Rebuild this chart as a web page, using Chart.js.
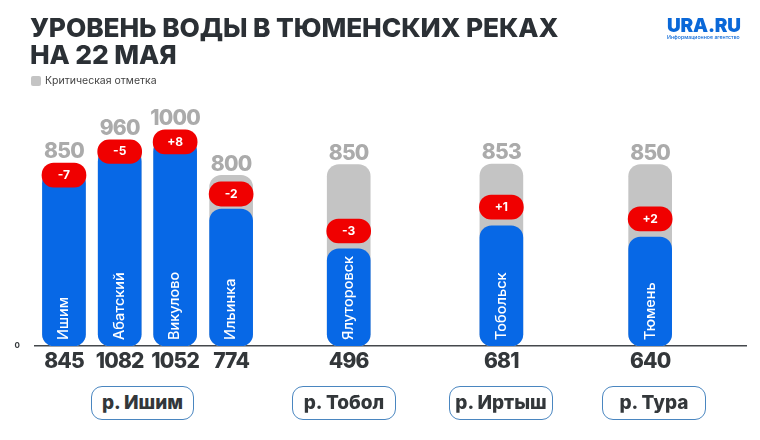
<!DOCTYPE html>
<html lang="ru">
<head>
<meta charset="utf-8">
<title>Уровень воды в тюменских реках</title>
<script src="https://cdn.jsdelivr.net/npm/chart.js@4/dist/chart.umd.min.js"></script>
<style>
    html, body { margin: 0; padding: 0; background: #fff; }
    body { width: 760px; height: 440px; position: relative; overflow: hidden; font-family: Inter, sans-serif; }
    canvas { position: absolute; left: 0; top: 0; }
    .title { position: absolute; left: 30px; top: 14px; font-size: 26.3px; line-height: 27px; font-weight: 800; color: #2b3035; letter-spacing: -0.1px; white-space: nowrap; }
    .legend { position: absolute; left: 31px; top: 75px; font-size: 10.5px; line-height: 12px; color: #444; padding-left: 14px; }
    .legend i { position: absolute; left: 0; top: 1px; width: 10px; height: 10px; border-radius: 2px; background: #c4c4c4; }
    .logo { position: absolute; left: 667px; top: 16px; font-size: 19px; line-height: 20px; font-weight: 900; color: #0a68d8; letter-spacing: -0.2px; }
    .logo small { display: block; font-size: 5.2px; line-height: 5px; font-weight: 500; letter-spacing: 0; white-space: nowrap; margin-top: -1px; }
    .river { position: absolute; top: 386px; height: 32px; line-height: 32px; border: 1.5px solid #4a86c0; border-radius: 11px; text-align: center; font-size: 19px; font-weight: 800; color: #33373a; background: #fff; }
</style>
</head>
<body>
<canvas id="waterChart" width="760" height="440"></canvas>
<div class="title">УРОВЕНЬ ВОДЫ В ТЮМЕНСКИХ РЕКАХ<br>НА 22 МАЯ</div>
<div class="legend"><i></i>Критическая отметка</div>
<div class="logo">URA.RU<small>Информационное агентство</small></div>
<div class="river" style="left:91px;width:101px">р. Ишим</div>
<div class="river" style="left:292px;width:102px">р. Тобол</div>
<div class="river" style="left:449px;width:102px">р. Иртыш</div>
<div class="river" style="left:602px;width:102px">р. Тура</div>

<script>
var stations = ['Ишим', 'Абатский', 'Викулово', 'Ильинка', 'Ялуторовск', 'Тобольск', 'Тюмень'];
var levels = [845, 1082, 1052, 774, 496, 681, 640];
var critical = [850, 960, 1000, 800, 850, 853, 850];
var changes = ['-7', '-5', '+8', '-2', '-3', '+1', '+2'];

// синие столбцы на картинке не в масштабе подписей, поэтому высоты считаны отдельно
var levelDrawn = [817, 920, 967, 642, 455, 563, 511];
// красные плашки: низ и верх
var badgeLow = [745, 856, 900, 656, 483, 595, 539];
var badgeHigh = [858, 966, 1013, 769, 595, 708, 652];

// места столбцов по оси x, реки стоят с разными промежутками
var slots = [0, 1, 1.995, 3, 5.11, 7.85, 10.52];

function points(values) {
    return values.map(function (v, i) {
        return { x: slots[i], y: v };
    });
}

var badgeBands = badgeLow.map(function (low, i) {
    return [low, badgeHigh[i]];
});

var labelsPlugin = {
    id: 'labels',
    afterDatasetsDraw: function (chart) {
        var ctx = chart.ctx;
        var x = chart.scales.x;
        var y = chart.scales.y;
        var font = 'Inter, sans-serif';

        ctx.save();
        ctx.textAlign = 'center';
        ctx.textBaseline = 'middle';

        stations.forEach(function (name, i) {
            var cx = x.getPixelForValue(slots[i]);

            // отметка сверху
            var top = Math.max(critical[i], badgeHigh[i]);
            ctx.fillStyle = '#ababab';
            ctx.font = '800 21px ' + font;
            ctx.letterSpacing = '-0.8px';
            ctx.fillText(critical[i], cx, y.getPixelForValue(top) - 11);

            // уровень под осью
            ctx.fillStyle = '#33373a';
            ctx.fillText(levels[i], cx, y.getPixelForValue(0) + 16);
            ctx.letterSpacing = '0px';

            // изменение на плашке
            ctx.fillStyle = '#fff';
            ctx.font = '700 12px ' + font;
            ctx.fillText(changes[i], cx, y.getPixelForValue((badgeLow[i] + badgeHigh[i]) / 2));

            // название поста
            ctx.save();
            ctx.translate(cx, y.getPixelForValue(0) - 6);
            ctx.rotate(-Math.PI / 2);
            ctx.textAlign = 'left';
            ctx.font = '500 14.5px ' + font;
            ctx.fillText(name, 0, 0);
            ctx.restore();
        });

        ctx.restore();
    }
};

new Chart(document.getElementById('waterChart').getContext('2d'), {
    type: 'bar',
    data: {
        datasets: [
            { label: 'Изменение', data: points(badgeBands), backgroundColor: '#f00000', barThickness: 44, borderRadius: 12, borderSkipped: false, grouped: false, order: 1 },
            { label: 'Уровень', data: points(levelDrawn), backgroundColor: '#0768e6', barThickness: 43, borderRadius: 12, borderSkipped: false, grouped: false, order: 2 },
            { label: 'Критическая отметка', data: points(critical), backgroundColor: '#c4c4c4', barThickness: 43, borderRadius: 12, borderSkipped: false, grouped: false, order: 3 }
        ]
    },
    options: {
        responsive: false,
        animation: false,
        layout: { padding: { top: 90, right: 14, bottom: 94, left: 0 } },
        plugins: {
            legend: { display: false },
            title: { display: false },
            tooltip: { enabled: false }
        },
        scales: {
            x: {
                type: 'linear',
                offset: false,
                min: -0.52,
                max: 12.24,
                grid: { display: false },
                border: { display: true, color: '#44484c', width: 1.5 },
                ticks: { display: false },
                afterFit: function (scale) { scale.height = 0; }
            },
            y: {
                min: 0,
                max: 1200,
                grid: { display: false, drawTicks: false },
                border: { display: false },
                ticks: {
                    stepSize: 1200,
                    padding: 15,
                    color: '#33373a',
                    font: { family: 'Inter', size: 8, weight: '700' },
                    callback: function (value) { return value === 0 ? '0' : ''; }
                },
                afterFit: function (scale) { scale.width = 35; }
            }
        }
    },
    plugins: [labelsPlugin]
});
</script>
</body>
</html>
